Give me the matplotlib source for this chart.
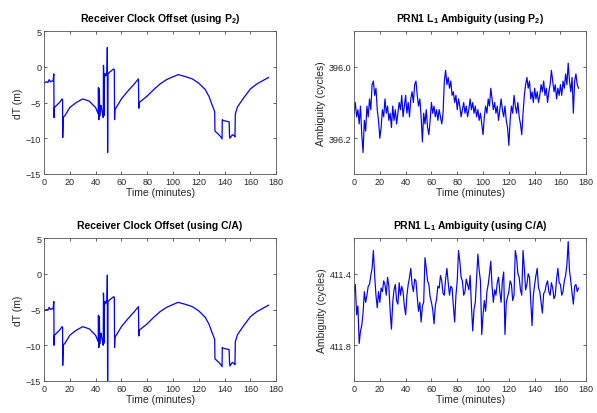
import numpy as np
import matplotlib
matplotlib.use('Agg')
import matplotlib.pyplot as plt

plt.rcParams['font.family'] = ['Liberation Sans', 'DejaVu Sans']
plt.rcParams['mathtext.fontset'] = 'custom'
plt.rcParams['mathtext.rm'] = 'Liberation Sans'
plt.rcParams['mathtext.bf'] = 'Liberation Sans:bold'

# ── receiver clock offset (using P2) ─────────────────────────────────────────
clk_time = [0, 2, 3, 4, 5, 6, 7, 7.6, 7.8, 7.9, 8.1, 12, 14, 14.4, 14.5, 15.0,
            16, 20, 25, 30, 35, 40, 42, 42.2, 42.5, 42.9, 43.2, 43.6, 44.2,
            45.0, 45.5, 45.9, 46.1, 46.3, 46.6, 46.9, 47.5, 48.2, 48.8, 49.1,
            49.3, 49.6, 50.5, 52, 54, 54.5, 54.7, 55.0, 60, 65, 70, 73.2,
            73.5, 73.8, 80, 85, 90, 95, 100, 104, 110, 115, 120, 125, 128,
            130, 131.5, 132.3, 132.5, 135, 137, 138, 138.2, 138.5, 141,
            143.5, 143.8, 144.1, 146, 147.8, 148.0, 148.3, 150, 155, 160,
            165, 170, 174]
clk_p2 = [-2.3, -2.1, -2.2, -1.8, -2.1, -2.0, -2.0, -1.0, -7.1, -5.9, -5.7,
          -5.0, -4.5, -4.6, -9.9, -7.0, -6.9, -5.7, -5.0, -4.5, -4.8, -5.7,
          -6.6, -2.9, -7.4, -3.1, -6.9, -5.6, -5.4, -6.3, -6.7, -7.1, 0.2,
          -1.2, -6.8, -1.0, -1.3, -0.9, -1.2, 2.7, -12.0, -1.0, -0.8, -0.6,
          -0.3, -0.4, -7.4, -6.0, -4.5, -3.4, -2.4, -1.7, -5.8, -5.0, -4.1,
          -3.2, -2.4, -1.8, -1.4, -1.1, -1.4, -1.7, -2.3, -3.2, -4.2, -5.2,
          -5.9, -6.3, -9.0, -9.4, -9.8, -10.1, -7.4, -7.5, -7.6, -7.7,
          -9.7, -10.0, -9.5, -9.7, -9.8, -6.6, -5.6, -4.3, -3.1, -2.4,
          -1.9, -1.5]

# ── receiver clock offset (using C/A) ────────────────────────────────────────
clk_ca = [-5.2, -5.0, -5.1, -4.7, -5.0, -4.9, -4.9, -3.9, -10.0, -8.8, -8.6,
          -7.9, -7.4, -7.5, -12.8, -9.9, -9.8, -8.6, -7.9, -7.4, -7.7, -8.6,
          -9.5, -5.8, -10.3, -6.0, -9.8, -8.5, -8.3, -9.2, -9.6, -10.0, -2.7,
          -4.1, -9.7, -3.9, -4.2, -3.8, -4.1, -0.2, -16.0, -3.9, -3.7, -3.5,
          -3.2, -3.3, -10.3, -8.9, -7.4, -6.3, -5.3, -4.6, -8.7, -7.9, -7.0,
          -6.1, -5.3, -4.7, -4.3, -4.0, -4.3, -4.6, -5.2, -6.1, -7.1, -8.1,
          -8.8, -9.2, -11.9, -12.3, -12.7, -13.0, -10.3, -10.4, -10.5, -10.6,
          -12.4, -12.9, -12.4, -12.6, -12.7, -9.5, -8.5, -7.2, -6.0, -5.3,
          -4.8, -4.4]

# ── PRN1 L1 ambiguity, one value per minute ──────────────────────────────────
amb_p2 = [396.13, 396.10, 396.14, 396.12, 396.16, 396.11, 396.19, 396.24, 396.15, 396.18,
          396.11, 396.14, 396.09, 396.12, 396.05, 396.04, 396.08, 396.06, 396.12, 396.15,
          396.20, 396.17, 396.12, 396.14, 396.09, 396.13, 396.11, 396.15, 396.13, 396.17,
          396.11, 396.15, 396.12, 396.16, 396.13, 396.10, 396.12, 396.08, 396.14, 396.11,
          396.08, 396.13, 396.10, 396.14, 396.09, 396.07, 396.10, 396.05, 396.04, 396.08,
          396.11, 396.09, 396.14, 396.21, 396.13, 396.16, 396.12, 396.17, 396.19, 396.15,
          396.10, 396.13, 396.11, 396.14, 396.12, 396.15, 396.12, 396.14, 396.16, 396.13,
          396.04, 396.01, 396.05, 396.03, 396.06, 396.04, 396.08, 396.07, 396.10, 396.08,
          396.12, 396.09, 396.11, 396.14, 396.12, 396.10, 396.13, 396.11, 396.14, 396.12,
          396.09, 396.12, 396.10, 396.13, 396.11, 396.14, 396.12, 396.15, 396.13, 396.16,
          396.19, 396.14, 396.11, 396.13, 396.09, 396.11, 396.06, 396.09, 396.12, 396.10,
          396.13, 396.11, 396.15, 396.12, 396.09, 396.12, 396.14, 396.11, 396.15, 396.17,
          396.22, 396.15, 396.11, 396.13, 396.08, 396.11, 396.13, 396.10, 396.14, 396.16,
          396.19, 396.13, 396.08, 396.05, 396.03, 396.06, 396.04, 396.09, 396.07, 396.10,
          396.06, 396.09, 396.07, 396.10, 396.08, 396.05, 396.07, 396.04, 396.08, 396.06,
          396.10, 396.07, 396.05, 396.01, 396.04, 396.07, 396.05, 396.09, 396.06, 396.08,
          396.05, 396.08, 396.04, 396.06, 396.02, 396.05, 395.99, 396.04, 396.07, 396.03,
          396.13, 396.04, 396.02, 396.05, 396.06]

amb_ca = [411.50, 411.46, 411.63, 411.58, 411.79, 411.72, 411.69, 411.62, 411.50, 411.56,
          411.52, 411.47, 411.46, 411.41, 411.37, 411.27, 411.41, 411.52, 411.59, 411.50,
          411.56, 411.48, 411.50, 411.44, 411.46, 411.52, 411.42, 411.47, 411.61, 411.71,
          411.56, 411.49, 411.46, 411.55, 411.57, 411.45, 411.52, 411.47, 411.50, 411.58,
          411.63, 411.52, 411.46, 411.42, 411.37, 411.46, 411.50, 411.43, 411.44, 411.53,
          411.61, 411.56, 411.67, 411.58, 411.56, 411.31, 411.37, 411.44, 411.46, 411.53,
          411.56, 411.60, 411.68, 411.58, 411.54, 411.47, 411.48, 411.41, 411.44, 411.51,
          411.52, 411.43, 411.37, 411.45, 411.52, 411.47, 411.48, 411.58, 411.67, 411.52,
          411.44, 411.27, 411.33, 411.42, 411.44, 411.52, 411.50, 411.43, 411.46, 411.49,
          411.41, 411.58, 411.72, 411.60, 411.56, 411.42, 411.29, 411.38, 411.44, 411.74,
          411.63, 411.55, 411.61, 411.50, 411.46, 411.40, 411.33, 411.47, 411.56, 411.49,
          411.52, 411.45, 411.42, 411.50, 411.56, 411.44, 411.39, 411.74, 411.56, 411.53,
          411.50, 411.44, 411.46, 411.55, 411.52, 411.27, 411.31, 411.40, 411.42, 411.49,
          411.52, 411.27, 411.37, 411.49, 411.46, 411.40, 411.42, 411.55, 411.69, 411.52,
          411.46, 411.41, 411.37, 411.48, 411.50, 411.56, 411.62, 411.51, 411.50, 411.46,
          411.44, 411.50, 411.52, 411.45, 411.48, 411.54, 411.52, 411.43, 411.37, 411.45,
          411.46, 411.52, 411.50, 411.44, 411.41, 411.35, 411.22, 411.38, 411.44, 411.51,
          411.57, 411.47, 411.46, 411.50, 411.48]
amb_time = np.arange(len(amb_p2))

# ── figure ────────────────────────────────────────────────────────────────────
fig = plt.figure(figsize=(5.97, 4.14), dpi=100)
w, h = 0.389, 0.3454
ax_tl = fig.add_axes([0.0737, 0.5773, w, h])
ax_tr = fig.add_axes([0.593, 0.5773, w, h])
ax_bl = fig.add_axes([0.0737, 0.0773, w, h])
ax_br = fig.add_axes([0.593, 0.0773, w, h])

blue = '#0000ff'
txt = '#262626'

def style(ax, title, ylabel):
    ax.set_xlim(0, 180)
    ax.set_xticks(range(0, 181, 20))
    ax.tick_params(direction='in', top=True, right=True, length=2.5,
                   width=0.6, labelsize=6.5, colors='#444444',
                   labelcolor=txt, pad=2)
    for s in ax.spines.values():
        s.set_linewidth(0.6)
        s.set_color('#555555')
    ax.set_title(title, fontsize=7.5, fontweight='bold', pad=7, color='black')
    ax.set_xlabel('Time (minutes)', fontsize=7.5, color=txt, labelpad=1)
    ax.set_ylabel(ylabel, fontsize=7.5, color=txt, labelpad=2)

ax_tl.plot(clk_time, clk_p2, color=blue, lw=0.9)
ax_tl.set_ylim(-15, 5)
ax_tl.set_yticks([-15, -10, -5, 0, 5])
style(ax_tl, r'Receiver Clock Offset (using P$_{\mathbf{2}}$)', 'dT (m)')

ax_bl.plot(clk_time, clk_ca, color=blue, lw=0.9)
ax_bl.set_ylim(-15, 5)
ax_bl.set_yticks([-15, -10, -5, 0, 5])
style(ax_bl, 'Receiver Clock Offset (using C/A)', 'dT (m)')

ax_tr.plot(amb_time, amb_p2, color=blue, lw=0.85)
ax_tr.set_ylim(396.3, 395.9)
ax_tr.set_yticks([396.0, 396.2])
ax_tr.set_yticklabels(['396.0', '396.2'])
style(ax_tr, r'PRN1 L$_{\mathbf{1}}$ Ambiguity (using P$_{\mathbf{2}}$)',
      'Ambiguity (cycles)')

ax_br.plot(amb_time, amb_ca, color=blue, lw=0.85)
ax_br.set_ylim(412.0, 411.2)
ax_br.set_yticks([411.4, 411.8])
ax_br.set_yticklabels(['411.4', '411.8'])
style(ax_br, r'PRN1 L$_{\mathbf{1}}$ Ambiguity (using C/A)',
      'Ambiguity (cycles)')

fig.savefig('out.png', dpi=100)
